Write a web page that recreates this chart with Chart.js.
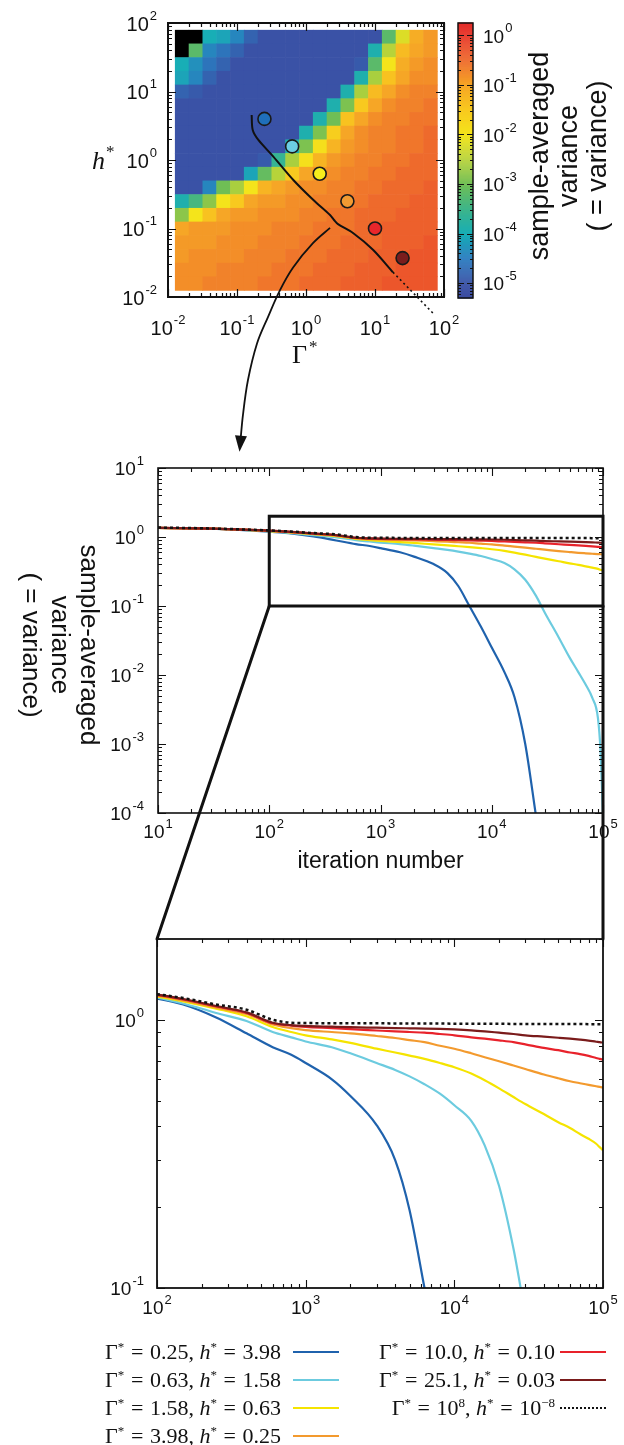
<!DOCTYPE html>
<html lang="es">
<head>
<meta charset="utf-8">
<title>Varianza promediada</title>
<script src="https://cdn.jsdelivr.net/npm/chart.js@4.4.1/dist/chart.umd.min.js"></script>
<style>
  html, body { margin: 0; padding: 0; background: #fff; }
  #page { position: relative; width: 624px; height: 1445px; overflow: hidden; }
  #page canvas { position: absolute; left: 0; top: 0; }
  .leg-txt { position: absolute; font-family: "Liberation Serif", "DejaVu Serif", serif; font-size: 22px; color: #111; white-space: nowrap; line-height: 22px; text-align: right; }
  .leg-txt sup { font-size: 13px; line-height: 0; }
  .leg-txt .eq { margin: 0 0.3em; }
  .leg-line { position: absolute; height: 0; }
</style>
</head>
<body>
<div id="page">
  <canvas id="heat" width="624" height="1445"></canvas>
  <canvas id="cbar" width="624" height="1445"></canvas>
  <canvas id="full" width="624" height="1445"></canvas>
  <canvas id="zoom" width="624" height="1445"></canvas>
  <div id="legend"></div>
</div>
<script>
// ---------- Datos del mapa (log10 de la varianza, filas de h* alto a bajo) ----------
const logGamma = [-1.8, -1.6, -1.4, -1.2, -1.0, -0.8, -0.6, -0.4, -0.2, 0.0, 0.2, 0.4, 0.6, 0.8, 1.0, 1.2, 1.4, 1.6, 1.8];
const logH = [1.8, 1.6, 1.4, 1.2, 1.0, 0.8, 0.6, 0.4, 0.2, 0.0, -0.2, -0.4, -0.6, -0.8, -1.0, -1.2, -1.4, -1.6, -1.8];
const heatLogVar = [
  [null, null, -4.0, -4.1, -4.4, -4.8, -5, -5, -5, -5, -5, -5, -5, -5, -5, -3.2, -2.2, -1.1, -0.9],
  [null, -3.2, -4.4, -4.6, -4.8, -5, -5, -5, -5, -5, -5, -5, -5, -5, -3.9, -2.5, -1.3, -1.0, -0.9],
  [-4.0, -4.3, -4.6, -4.8, -5, -5, -5, -5, -5, -5, -5, -5, -5, -4.9, -3.2, -2.0, -1.1, -0.9, -0.8],
  [-4.1, -4.4, -4.8, -5, -5, -5, -5, -5, -5, -5, -5, -5, -5, -3.9, -2.6, -1.4, -1.0, -0.8, -0.8],
  [-4.8, -4.9, -5, -5, -5, -5, -5, -5, -5, -5, -5, -5, -3.9, -2.6, -1.3, -1.0, -0.8, -0.7, -0.7],
  [-5, -5, -5, -5, -5, -5, -5, -5, -5, -5, -5, -3.9, -2.9, -1.5, -1.0, -0.8, -0.7, -0.7, -0.6],
  [-5, -5, -5, -5, -5, -5, -5, -5, -5, -5, -3.9, -3.0, -1.4, -1.0, -0.8, -0.7, -0.7, -0.6, -0.6],
  [-5, -5, -5, -5, -5, -5, -5, -5, -5, -3.9, -2.9, -1.6, -1.0, -0.8, -0.7, -0.7, -0.6, -0.6, -0.5],
  [-5, -5, -5, -5, -5, -5, -5, -5, -3.9, -2.9, -1.9, -1.2, -0.9, -0.8, -0.7, -0.7, -0.6, -0.6, -0.5],
  [-5, -5, -5, -5, -5, -5, -4.9, -3.6, -2.6, -1.9, -1.2, -0.9, -0.8, -0.7, -0.7, -0.6, -0.6, -0.5, -0.5],
  [-5, -5, -5, -5, -5, -4.1, -3.1, -2.5, -1.5, -1.0, -0.9, -0.8, -0.7, -0.7, -0.6, -0.6, -0.5, -0.5, -0.5],
  [-5, -5, -4.4, -3.0, -2.6, -2.0, -1.2, -1.0, -0.9, -0.8, -0.8, -0.7, -0.7, -0.6, -0.6, -0.5, -0.5, -0.5, -0.4],
  [-3.9, -3.4, -2.8, -2.0, -1.5, -1.0, -0.9, -0.9, -0.8, -0.8, -0.7, -0.7, -0.6, -0.6, -0.5, -0.5, -0.5, -0.4, -0.4],
  [-2.8, -2.0, -1.4, -1.0, -0.9, -0.9, -0.8, -0.8, -0.8, -0.7, -0.7, -0.6, -0.6, -0.5, -0.5, -0.5, -0.4, -0.4, -0.4],
  [-1.0, -0.9, -0.9, -0.9, -0.8, -0.8, -0.8, -0.7, -0.7, -0.7, -0.6, -0.6, -0.6, -0.5, -0.5, -0.4, -0.4, -0.4, -0.4],
  [-0.9, -0.9, -0.9, -0.8, -0.8, -0.8, -0.7, -0.7, -0.7, -0.6, -0.6, -0.6, -0.5, -0.5, -0.5, -0.4, -0.4, -0.4, -0.3],
  [-0.9, -0.8, -0.8, -0.8, -0.8, -0.7, -0.7, -0.7, -0.6, -0.6, -0.6, -0.5, -0.5, -0.5, -0.4, -0.4, -0.4, -0.3, -0.3],
  [-0.8, -0.8, -0.8, -0.7, -0.7, -0.7, -0.7, -0.6, -0.6, -0.6, -0.5, -0.5, -0.5, -0.4, -0.4, -0.4, -0.3, -0.3, -0.3],
  [-0.8, -0.8, -0.7, -0.7, -0.7, -0.7, -0.6, -0.6, -0.6, -0.5, -0.5, -0.5, -0.4, -0.4, -0.4, -0.3, -0.3, -0.3, -0.3]
];

// puntos marcados en el mapa
const ptGamma = [0.25, 0.63, 1.58, 3.98, 10.0, 25.1];
const ptH = [3.98, 1.58, 0.63, 0.25, 0.10, 0.037];

// línea crítica (tramo continuo y tramo punteado) y flecha hacia el panel inferior
const critGamma = [0.163, 0.169, 0.204, 0.336, 0.655, 1.28, 2.23, 2.55, 2.91, 4.80, 9.35, 18.2];
const critH = [4.54, 2.74, 1.96, 1.12, 0.51, 0.26, 0.157, 0.133, 0.116, 0.086, 0.049, 0.023];
const dashGamma = [18.2, 69.3];
const dashH = [0.023, 0.0058];
const arrowGamma = [2.23, 1.26, 0.65, 0.42, 0.281, 0.195, 0.144, 0.122, 0.110];
const arrowH = [0.102, 0.061, 0.027, 0.0126, 0.0051, 0.0021, 0.00061, 0.00019, 0.000063];

// ---------- Curvas de varianza vs iteración ----------
const iters = [10, 30, 100, 150, 250, 400, 600, 800, 1000, 1500, 2000, 3000, 4000, 5000, 6300, 8000,
               10000, 13000, 16000, 20000, 25000, 30000, 40000, 50000, 60000, 70000, 80000, 90000, 95000, 100000];
const varG025 = [1.36, 1.32, 1.20, 1.14, 1.02, 0.89, 0.79, 0.74, 0.69, 0.60, 0.52, 0.405, 0.30, 0.195, 0.10, 0.05,
                 0.025, 0.011, 0.0048, 0.001, 0.00009, null, null, null, null, null, null, null, null, null];
const varG063 = [1.36, 1.32, 1.21, 1.15, 1.06, 0.99, 0.90, 0.86, 0.83, 0.79, 0.75, 0.69, 0.65, 0.615, 0.575, 0.53,
                 0.48, 0.42, 0.34, 0.24, 0.14, 0.08, 0.035, 0.018, 0.011, 0.0072, 0.0047, 0.0024, 0.0008, 0.00009];
const varG158 = [1.36, 1.32, 1.22, 1.17, 1.10, 1.03, 0.94, 0.90, 0.875, 0.845, 0.82, 0.78, 0.755, 0.735, 0.715, 0.69,
                 0.665, 0.63, 0.595, 0.555, 0.515, 0.485, 0.445, 0.415, 0.395, 0.375, 0.36, 0.345, 0.335, 0.326];
const varG398 = [1.36, 1.32, 1.23, 1.18, 1.11, 1.05, 0.96, 0.93, 0.915, 0.90, 0.89, 0.87, 0.855, 0.84, 0.825, 0.80,
                 0.78, 0.75, 0.725, 0.70, 0.675, 0.655, 0.625, 0.605, 0.59, 0.58, 0.572, 0.565, 0.562, 0.559];
const varG100 = [1.36, 1.32, 1.235, 1.19, 1.12, 1.06, 0.97, 0.95, 0.94, 0.93, 0.922, 0.912, 0.905, 0.90, 0.895, 0.885,
                 0.875, 0.86, 0.85, 0.838, 0.825, 0.81, 0.785, 0.77, 0.755, 0.745, 0.733, 0.72, 0.715, 0.71];
const varG251 = [1.36, 1.32, 1.24, 1.195, 1.125, 1.065, 0.975, 0.955, 0.948, 0.942, 0.938, 0.934, 0.931, 0.929, 0.927, 0.924,
                 0.92, 0.913, 0.905, 0.895, 0.885, 0.875, 0.865, 0.857, 0.85, 0.843, 0.836, 0.828, 0.825, 0.821];
const varG1e8 = [1.37, 1.33, 1.245, 1.205, 1.14, 1.09, 1.00, 0.975, 0.972, 0.971, 0.970, 0.970, 0.969, 0.969, 0.968, 0.968,
                 0.967, 0.967, 0.966, 0.966, 0.965, 0.965, 0.965, 0.964, 0.964, 0.964, 0.963, 0.963, 0.963, 0.963];

const seriesVals = [varG025, varG063, varG158, varG398, varG100, varG251, varG1e8];
const seriesColors = ['#1f62ad', '#6ccbdf', '#f5e400', '#f39a2e', '#e8222b', '#7a1b1b', '#111111'];
const legendGamma = ['0.25', '0.63', '1.58', '3.98', '10.0', '25.1', '10<sup>8</sup>'];
const legendH = ['3.98', '1.58', '0.63', '0.25', '0.10', '0.03', '10<sup>&minus;8</sup>'];
const pointColors = ['#1f6fba', '#6ccde3', '#f6ee1c', '#f29a32', '#e8262b', '#7a1d1d'];

// ---------- Utilidades de dibujo ----------
const SANS = '"Liberation Sans", Arial, Helvetica, sans-serif';
const SERIF = '"Liberation Serif", "DejaVu Serif", serif';

// mapa de color tipo "jet" del colorbar (valor en log10)
const cmapStops = [
  [-5.3, [58, 74, 160]], [-5.0, [58, 82, 166]], [-4.5, [42, 124, 192]], [-4.0, [24, 174, 182]],
  [-3.5, [61, 181, 138]], [-3.0, [111, 190, 85]], [-2.5, [183, 211, 58]], [-2.0, [244, 228, 27]],
  [-1.5, [248, 201, 31]], [-1.0, [246, 166, 38]], [-0.5, [238, 106, 44]], [0.0, [232, 56, 42]], [0.3, [228, 40, 40]]
];
function cmap(v) {
  if (v === null) return '#000';
  for (let k = 1; k < cmapStops.length; k++) {
    if (v <= cmapStops[k][0] || k === cmapStops.length - 1) {
      const [v0, c0] = cmapStops[k - 1], [v1, c1] = cmapStops[k];
      const t = Math.max(0, Math.min(1, (v - v0) / (v1 - v0)));
      const c = c0.map((a, j) => Math.round(a + (c1[j] - a) * t));
      return `rgb(${c[0]},${c[1]},${c[2]})`;
    }
  }
}

function logTicks(min, max) {
  const major = [], minor = [];
  for (let e = Math.floor(Math.log10(min)) - 1; e <= Math.ceil(Math.log10(max)); e++) {
    for (let m = 1; m < 10; m++) {
      const v = m * Math.pow(10, e);
      if (v < min * 0.999 || v > max * 1.001) continue;
      (m === 1 ? major : minor).push(v);
    }
  }
  return { major, minor };
}

// "10" con exponente en superíndice
function drawPow(ctx, exp, x, y, align, size) {
  const small = Math.round(size * 0.66);
  ctx.font = size + 'px ' + SANS;
  const wb = ctx.measureText('10').width;
  ctx.font = small + 'px ' + SANS;
  const ws = ctx.measureText(String(exp)).width;
  const w = wb + 1 + ws;
  const x0 = align === 'right' ? x - w : align === 'center' ? x - w / 2 : x;
  ctx.fillStyle = '#111';
  ctx.textAlign = 'left';
  ctx.textBaseline = 'middle';
  ctx.font = size + 'px ' + SANS;
  ctx.fillText('10', x0, y);
  ctx.font = small + 'px ' + SANS;
  ctx.fillText(String(exp), x0 + wb + 1, y - size * 0.45);
}

// marco con marcas hacia dentro en los cuatro lados y etiquetas
const framePlugin = {
  id: 'marco',
  afterDraw(chart, args, o) {
    const { ctx, chartArea: a, scales: { x, y } } = chart;
    ctx.save();
    ctx.strokeStyle = '#111';
    ctx.lineWidth = o.tickWidth || 1;
    ctx.beginPath();
    const tx = logTicks(x.min, x.max), ty = logTicks(y.min, y.max);
    [[tx.major, o.majorLen], [tx.minor, o.minorLen]].forEach(([list, len]) => list.forEach(v => {
      const px = Math.round(x.getPixelForValue(v)) + 0.5;
      ctx.moveTo(px, a.bottom); ctx.lineTo(px, a.bottom - len);
      ctx.moveTo(px, a.top); ctx.lineTo(px, a.top + len);
    }));
    [[ty.major, o.majorLen], [ty.minor, o.minorLen]].forEach(([list, len]) => list.forEach(v => {
      const py = Math.round(y.getPixelForValue(v)) + 0.5;
      ctx.moveTo(a.left, py); ctx.lineTo(a.left + len, py);
      ctx.moveTo(a.right, py); ctx.lineTo(a.right - len, py);
    }));
    ctx.stroke();
    ctx.lineWidth = o.frameWidth;
    ctx.strokeRect(a.left, a.top, a.right - a.left, a.bottom - a.top);
    (o.xExp || []).forEach(e => drawPow(ctx, e, x.getPixelForValue(Math.pow(10, e)), o.xLabelY, 'center', o.fontSize));
    (o.yExp || []).forEach(e => drawPow(ctx, e, o.yLabelX, y.getPixelForValue(Math.pow(10, e)) + 2, 'right', o.fontSize));
    ctx.restore();
  }
};

// celdas del mapa de calor dibujadas con las escalas del gráfico
const heatPlugin = {
  id: 'celdas',
  beforeDatasetsDraw(chart) {
    const { ctx, scales: { x, y } } = chart;
    ctx.save();
    heatLogVar.forEach((row, r) => row.forEach((v, i) => {
      const x0 = x.getPixelForValue(Math.pow(10, logGamma[i] - 0.1));
      const x1 = x.getPixelForValue(Math.pow(10, logGamma[i] + 0.1));
      const y0 = y.getPixelForValue(Math.pow(10, logH[r] + 0.1));
      const y1 = y.getPixelForValue(Math.pow(10, logH[r] - 0.1));
      ctx.fillStyle = cmap(v);
      ctx.fillRect(x0, y0, x1 - x0 + 0.6, y1 - y0 + 0.6);
    }));
    ctx.restore();
  },
  afterDatasetsDraw(chart) {
    // punta de flecha al final de la curva de la flecha
    const pts = chart.getDatasetMeta(2).data;
    const p1 = pts[pts.length - 1], p0 = pts[pts.length - 2];
    const ang = Math.atan2(p1.y - p0.y, p1.x - p0.x);
    const { ctx } = chart;
    ctx.save();
    ctx.fillStyle = '#111';
    ctx.beginPath();
    ctx.moveTo(p1.x + 4 * Math.cos(ang), p1.y + 4 * Math.sin(ang));
    ctx.lineTo(p1.x - 12 * Math.cos(ang) - 6 * Math.sin(ang), p1.y - 12 * Math.sin(ang) + 6 * Math.cos(ang));
    ctx.lineTo(p1.x - 12 * Math.cos(ang) + 6 * Math.sin(ang), p1.y - 12 * Math.sin(ang) - 6 * Math.cos(ang));
    ctx.closePath();
    ctx.fill();
    // títulos de ejes
    ctx.fillStyle = '#111';
    ctx.textBaseline = 'middle';
    ctx.textAlign = 'left';
    ctx.font = '26px ' + SERIF;
    ctx.fillText('\u0393', 292, 356);
    ctx.font = '17px ' + SERIF;
    ctx.fillText('*', 309, 348);
    ctx.font = 'italic 26px ' + SERIF;
    ctx.fillText('h', 92, 162);
    ctx.font = '17px ' + SERIF;
    ctx.fillText('*', 106, 153);
    ctx.restore();
  }
};

function pad(l, t, r, b) { return { left: l, top: t, right: 624 - r, bottom: 1445 - b }; }
const toXY = (xs, ys) => xs.map((v, i) => ({ x: v, y: ys[i] })).filter(p => p.y !== null);

Chart.defaults.animation = false;
Chart.defaults.events = [];

// ---------- Panel 1: mapa de calor ----------
const heatChart = new Chart(document.getElementById('heat'), {
  type: 'scatter',
  data: {
    datasets: [
      { type: 'line', data: toXY(critGamma, critH), borderColor: '#111', borderWidth: 2, pointRadius: 0, tension: 0.3, clip: false },
      { type: 'line', data: toXY(dashGamma, dashH), borderColor: '#111', borderWidth: 1.6, borderDash: [2, 3], pointRadius: 0, clip: false },
      { type: 'line', data: toXY(arrowGamma, arrowH), borderColor: '#111', borderWidth: 1.8, pointRadius: 0, tension: 0.35, clip: false },
      { data: toXY(ptGamma, ptH), pointRadius: 6.5, pointBackgroundColor: pointColors, pointBorderColor: '#1a1a1a', pointBorderWidth: 1.6 }
    ]
  },
  options: {
    responsive: false,
    layout: { padding: pad(168, 23, 444, 297) },
    scales: {
      x: { type: 'logarithmic', min: 0.01, max: 100, display: false },
      y: { type: 'logarithmic', min: 0.01, max: 100, display: false }
    },
    plugins: {
      legend: { display: false }, tooltip: { enabled: false },
      marco: { majorLen: 8, minorLen: 4, frameWidth: 2, tickWidth: 1.2, fontSize: 20,
               xExp: [-2, -1, 0, 1, 2], xLabelY: 329, yExp: [2, 1, 0, -1, -2], yLabelX: 157 }
    }
  },
  plugins: [heatPlugin, framePlugin]
});

// ---------- Barra de color ----------
const cbarPlugin = {
  id: 'barra',
  afterDraw(chart) {
    const { ctx, chartArea: a, scales: { y } } = chart;
    ctx.save();
    for (let v = y.min; v < y.max; v += 0.02) {
      const y0 = y.getPixelForValue(v + 0.02), y1 = y.getPixelForValue(v);
      ctx.fillStyle = cmap(v + 0.01);
      ctx.fillRect(a.left, y0, a.right - a.left, y1 - y0 + 0.5);
    }
    ctx.strokeStyle = '#111';
    ctx.lineWidth = 1;
    ctx.beginPath();
    for (let k = -6; k <= 0; k++) {
      for (let m = 1; m < 10; m++) {
        const v = k + Math.log10(m);
        if (v < y.min || v > y.max) continue;
        const py = Math.round(y.getPixelForValue(v)) + 0.5, len = m === 1 ? 6 : 3;
        ctx.moveTo(a.left, py); ctx.lineTo(a.left + len, py);
        ctx.moveTo(a.right, py); ctx.lineTo(a.right - len, py);
      }
    }
    ctx.stroke();
    ctx.lineWidth = 1.5;
    ctx.strokeRect(a.left, a.top, a.right - a.left, a.bottom - a.top);
    for (let k = 0; k >= -5; k--) drawPow(ctx, k, 483, y.getPixelForValue(k) + 2, 'left', 19);
    // título vertical
    ctx.fillStyle = '#111';
    ctx.textAlign = 'center';
    ctx.textBaseline = 'middle';
    ctx.font = '27px ' + SANS;
    [['sample-averaged', 541], ['variance', 570], ['( = variance)', 599]].forEach(([t, cx]) => {
      ctx.save();
      ctx.translate(cx, 156);
      ctx.rotate(-Math.PI / 2);
      ctx.fillText(t, 0, 0);
      ctx.restore();
    });
    ctx.restore();
  }
};
new Chart(document.getElementById('cbar'), {
  type: 'scatter',
  data: { datasets: [] },
  options: {
    responsive: false,
    layout: { padding: pad(458, 23, 473, 298) },
    scales: {
      x: { type: 'linear', min: 0, max: 1, display: false },
      y: { type: 'linear', min: -5.3, max: 0.25, display: false }
    },
    plugins: { legend: { display: false }, tooltip: { enabled: false } }
  },
  plugins: [cbarPlugin]
});

// ---------- Panel 2: curvas completas ----------
function lineSets(width) {
  return seriesVals.map((vals, k) => ({
    data: toXY(iters, vals),
    showLine: true,
    borderColor: seriesColors[k],
    borderWidth: k === 6 ? width + 0.3 : width,
    borderDash: k === 6 ? [3, 3] : [],
    pointRadius: 0,
    cubicInterpolationMode: 'monotone',
    order: 6 - k
  }));
}

const boxPlugin = {
  id: 'caja',
  afterDraw(chart) {
    const { ctx, chartArea: a, scales: { x, y } } = chart;
    ctx.save();
    ctx.strokeStyle = '#111';
    ctx.lineWidth = 3;
    const x0 = x.getPixelForValue(100), x1 = x.getPixelForValue(1e5);
    const y0 = y.getPixelForValue(2), y1 = y.getPixelForValue(0.1);
    ctx.strokeRect(x0, y0, x1 - x0, y1 - y0);
    ctx.fillStyle = '#111';
    ctx.font = '23px ' + SANS;
    ctx.textAlign = 'center';
    ctx.textBaseline = 'middle';
    ctx.fillText('iteration number', (a.left + a.right) / 2, 862);
    ctx.font = '26px ' + SANS;
    [['sample-averaged', 88], ['variance', 59], ['( = variance)', 30]].forEach(([t, cx]) => {
      ctx.save();
      ctx.translate(cx, 645);
      ctx.rotate(Math.PI / 2);
      ctx.fillText(t, 0, 0);
      ctx.restore();
    });
    ctx.restore();
  }
};

const fullChart = new Chart(document.getElementById('full'), {
  type: 'scatter',
  data: { datasets: lineSets(2.2) },
  options: {
    responsive: false,
    layout: { padding: pad(158, 468, 603, 813) },
    scales: {
      x: { type: 'logarithmic', min: 10, max: 1e5, display: false },
      y: { type: 'logarithmic', min: 1e-4, max: 10, display: false }
    },
    plugins: {
      legend: { display: false }, tooltip: { enabled: false },
      marco: { majorLen: 8, minorLen: 4, frameWidth: 1.6, tickWidth: 1.1, fontSize: 19,
               xExp: [1, 2, 3, 4, 5], xLabelY: 833, yExp: [1, 0, -1, -2, -3, -4], yLabelX: 144 }
    }
  },
  plugins: [framePlugin, boxPlugin]
});

// ---------- Panel 3: ampliación ----------
const linkPlugin = {
  id: 'enlace',
  afterDraw(chart) {
    const { ctx, chartArea: a } = chart;
    const fx = fullChart.scales.x, fy = fullChart.scales.y;
    ctx.save();
    ctx.strokeStyle = '#111';
    ctx.lineWidth = 3;
    ctx.lineCap = 'round';
    ctx.beginPath();
    ctx.moveTo(fx.getPixelForValue(100), fy.getPixelForValue(0.1));
    ctx.lineTo(a.left, a.top);
    ctx.moveTo(fx.getPixelForValue(1e5), fy.getPixelForValue(0.1));
    ctx.lineTo(a.right, a.top);
    ctx.stroke();
    ctx.restore();
  }
};

new Chart(document.getElementById('zoom'), {
  type: 'scatter',
  data: { datasets: lineSets(2.2) },
  options: {
    responsive: false,
    layout: { padding: pad(157, 939, 603, 1288) },
    scales: {
      x: { type: 'logarithmic', min: 100, max: 1e5, display: false },
      y: { type: 'logarithmic', min: 0.1, max: 2, display: false }
    },
    plugins: {
      legend: { display: false }, tooltip: { enabled: false },
      marco: { majorLen: 8, minorLen: 4, frameWidth: 1.8, tickWidth: 1.1, fontSize: 19,
               xExp: [2, 3, 4, 5], xLabelY: 1309, yExp: [0, -1], yLabelX: 144 }
    }
  },
  plugins: [framePlugin, linkPlugin]
});

// ---------- Leyenda (HTML) ----------
const legend = document.getElementById('legend');
const legRows = [1352, 1380, 1408, 1436];
seriesColors.forEach((c, k) => {
  const col = k < 4 ? 0 : 1, row = k < 4 ? k : k - 4;
  const textRight = col === 0 ? 281 : 555;
  const lineLeft = col === 0 ? 293 : 560;
  const yc = legRows[row];
  legend.innerHTML += `
    <div class="leg-txt" style="right:${624 - textRight}px; top:${yc - 11}px">\u0393<sup>*</sup><span class="eq">=</span>${legendGamma[k]}, <i>h</i><sup>*</sup><span class="eq">=</span>${legendH[k]}</div>
    <div class="leg-line" style="left:${lineLeft}px; top:${yc - 1}px; width:46px; border-top:${k === 6 ? '2.5px dotted' : '2.5px solid'} ${c}"></div>
  `;
});
</script>
</body>
</html>
